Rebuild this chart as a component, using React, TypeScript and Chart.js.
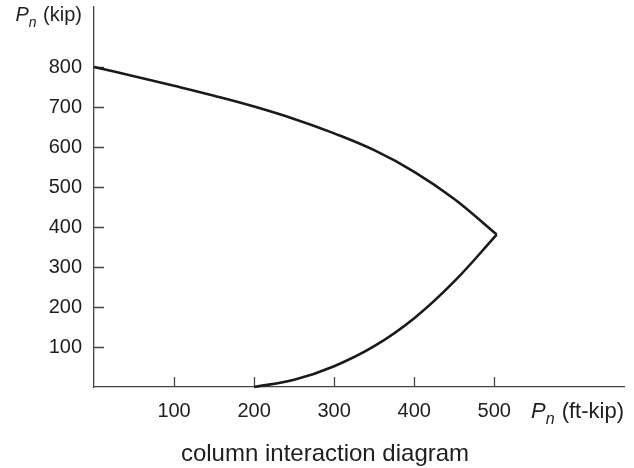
import React, { useEffect, useRef } from "react";
import { Chart, registerables } from "chart.js";

Chart.register(...registerables);

// Upper (compression-controlled) branch: moment Mn (ft-kip) vs axial Pn (kip)
const upperM = [0, 50, 100, 150, 200, 250, 300, 350, 400, 450, 503];
const upperP = [800, 777, 753, 728, 701, 670, 634, 592, 538, 470, 381];
// Lower (tension-controlled) branch
const lowerM = [200, 250, 300, 350, 400, 450, 503];
const lowerP = [0, 18, 52, 102, 172, 264, 381];

const xTicks = [100, 200, 300, 400, 500];
const yTicks = [100, 200, 300, 400, 500, 600, 700, 800];
const xMax = 662;
const yMax = 950;

const titleText = "column interaction diagram";
const yLabel = { main: "P", sub: "n", rest: " (kip)" };
const xLabel = { main: "P", sub: "n", rest: " (ft-kip)" };

const FONT = "'Liberation Sans', Arial, Helvetica, sans-serif";
const TEXT_COLOR = "#1e1e1e";
const AXIS_COLOR = "#444";
const LINE_COLOR = "#1a1a1a";

function drawSubLabel(
  ctx: CanvasRenderingContext2D,
  lab: { main: string; sub: string; rest: string },
  rightX: number,
  baseY: number,
  size: number
) {
  ctx.font = `italic ${size}px ${FONT}`;
  const wMain = ctx.measureText(lab.main).width;
  const subSize = Math.round(size * 0.72);
  ctx.font = `italic ${subSize}px ${FONT}`;
  const wSub = ctx.measureText(lab.sub).width;
  ctx.font = `${size}px ${FONT}`;
  const wRest = ctx.measureText(lab.rest).width;
  let x = rightX - (wMain + wSub + 1 + wRest);
  ctx.fillStyle = TEXT_COLOR;
  ctx.textBaseline = "alphabetic";
  ctx.textAlign = "left";
  ctx.font = `italic ${size}px ${FONT}`;
  ctx.fillText(lab.main, x, baseY);
  x += wMain;
  ctx.font = `italic ${subSize}px ${FONT}`;
  ctx.fillText(lab.sub, x, baseY + size * 0.28);
  x += wSub + 1;
  ctx.font = `${size}px ${FONT}`;
  ctx.fillText(lab.rest, x, baseY);
}

const decor = {
  id: "decor",
  beforeDatasetsDraw(chart: any) {
    const { ctx, chartArea, scales } = chart;
    const xs = scales.x;
    const ys = scales.y;
    ctx.save();
    ctx.strokeStyle = AXIS_COLOR;
    ctx.lineWidth = 1.3;
    ctx.beginPath();
    for (const v of xTicks) {
      const px = Math.round(xs.getPixelForValue(v)) + 0.5;
      ctx.moveTo(px, chartArea.bottom);
      ctx.lineTo(px, chartArea.bottom - 10);
    }
    for (const v of yTicks) {
      const py = Math.round(ys.getPixelForValue(v)) + 0.5;
      ctx.moveTo(chartArea.left, py);
      ctx.lineTo(chartArea.left + 10, py);
    }
    ctx.stroke();
    ctx.restore();
  },
  afterDraw(chart: any) {
    const { ctx, chartArea } = chart;
    ctx.save();
    drawSubLabel(ctx, yLabel, chartArea.left - 12, 21, 20);
    drawSubLabel(ctx, xLabel, chartArea.right, chartArea.bottom + 31, 22);
    ctx.restore();
  },
};

export default function App() {
  const ref = useRef<HTMLCanvasElement>(null);
  useEffect(() => {
    if (!ref.current) return;
    const upper = upperM.map((m, i) => ({ x: m, y: upperP[i] }));
    const lower = lowerM.map((m, i) => ({ x: m, y: lowerP[i] }));
    const lineStyle = {
      showLine: true,
      borderColor: LINE_COLOR,
      backgroundColor: LINE_COLOR,
      borderWidth: 2.6,
      pointRadius: 0,
      pointHoverRadius: 0,
      tension: 0.4,
      fill: false,
      clip: false as any,
    };
    const chart = new Chart(ref.current, {
      type: "scatter",
      data: {
        datasets: [
          { label: "upper", data: upper, ...lineStyle },
          { label: "lower", data: lower, ...lineStyle },
        ],
      },
      plugins: [decor],
      options: {
        animation: false,
        responsive: false,
        maintainAspectRatio: false,
        layout: { padding: { left: 26, right: 10, top: 7, bottom: 0 } },
        plugins: {
          legend: { display: false },
          tooltip: { enabled: false },
          title: {
            display: true,
            text: titleText,
            position: "bottom",
            color: TEXT_COLOR,
            font: { family: FONT, size: 24, weight: "normal" as any, lineHeight: 1.1 },
            padding: { top: 8, bottom: 0 },
          },
        },
        scales: {
          x: {
            type: "linear",
            min: 0,
            max: xMax,
            afterBuildTicks: (s: any) => {
              s.ticks = xTicks.map((v) => ({ value: v }));
            },
            afterFit: (s: any) => {
              s.height = 468 - 387 - (24 * 1.1 + 8);
              s.paddingLeft = 0;
              s.paddingRight = 0;
            },
            grid: { display: true, drawOnChartArea: false, drawTicks: false },
            border: { display: true, color: AXIS_COLOR, width: 1.3 },
            ticks: {
              color: TEXT_COLOR,
              font: { family: FONT, size: 20 },
              padding: 12,
              maxRotation: 0,
              autoSkip: false,
            },
          },
          y: {
            type: "linear",
            min: 0,
            max: yMax,
            afterBuildTicks: (s: any) => {
              s.ticks = yTicks.map((v) => ({ value: v }));
            },
            afterFit: (s: any) => {
              s.width = 68;
              s.paddingTop = 0;
              s.paddingBottom = 0;
            },
            grid: { display: true, drawOnChartArea: false, drawTicks: false },
            border: { display: true, color: AXIS_COLOR, width: 1.3 },
            ticks: {
              color: TEXT_COLOR,
              font: { family: FONT, size: 20 },
              padding: 12,
              autoSkip: false,
            },
          },
        },
      },
    });
    return () => chart.destroy();
  }, []);
  return (
    <div style={{ position: "absolute", left: 0, top: 0, width: 634, height: 468 }}>
      <canvas ref={ref} width={634} height={468} style={{ display: "block" }} />
    </div>
  );
}
